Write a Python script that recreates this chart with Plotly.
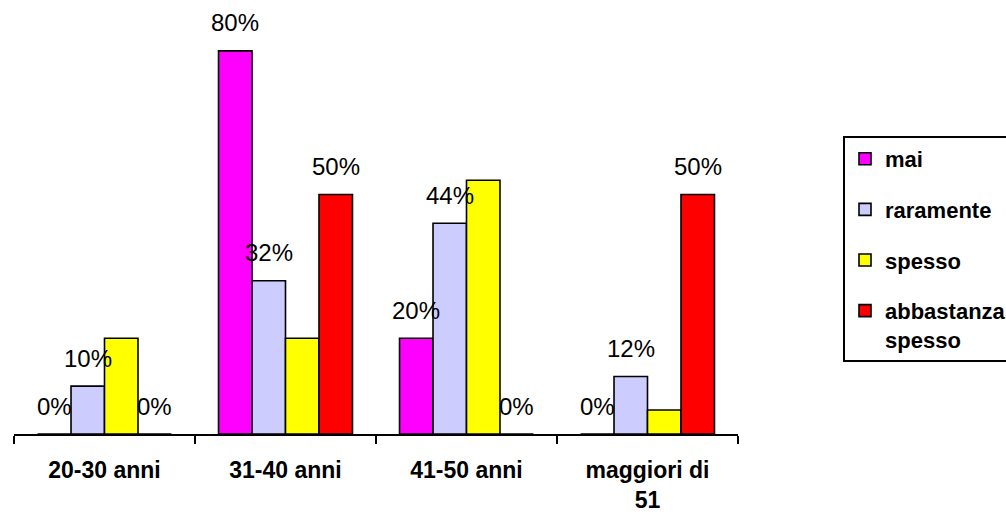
import plotly.graph_objects as go

# Age groups on the x axis
categories = ["20-30 anni", "31-40 anni", "41-50 anni", "maggiori di<br>51"]

# Percentage of answers per age group
mai = [0, 80, 20, 0]
raramente = [10, 32, 44, 12]
spesso = [20, 20, 53, 5]
abbastanza_spesso = [0, 50, 0, 50]

series_names = ["mai", "raramente", "spesso", "abbastanza<br>spesso"]
series_values = [mai, raramente, spesso, abbastanza_spesso]
series_colors = ["#FF00FF", "#CCCCFF", "#FFFF00", "#FF0000"]
# which series carry a percentage label above each bar
series_labelled = [True, True, False, True]

FONT = "Liberation Sans, Arial, sans-serif"
BARGAP = 0.26

fig = go.Figure()
for i, (name, vals, col) in enumerate(zip(series_names, series_values, series_colors)):
    fig.add_trace(go.Bar(
        x=categories,
        y=vals,
        name=name,
        legendgroup=f"g{i}",
        marker=dict(color=col, line=dict(color="black", width=1.6)),
        hoverinfo="skip",
    ))

# value labels placed above the bars of each labelled series
n = len(series_values)
slot = (1 - BARGAP) / n
annotations = []
for k, (vals, show) in enumerate(zip(series_values, series_labelled)):
    if not show:
        continue
    offset = (k - (n - 1) / 2) * slot
    for ci, v in enumerate(vals):
        annotations.append(dict(
            x=ci + offset, y=v, xref="x", yref="y",
            text=f"{v}%", showarrow=False,
            xanchor="center", yanchor="middle", yshift=28,
            font=dict(family=FONT, size=24, color="black"),
        ))

fig.update_layout(
    width=1006, height=517,
    barmode="group", bargap=BARGAP, bargroupgap=0,
    plot_bgcolor="white", paper_bgcolor="white",
    margin=dict(l=14, r=268, t=3, b=83, autoexpand=False),
    annotations=annotations,
    showlegend=True,
    legend=dict(
        x=(843 - 14) / 724, y=(434 - 136) / 431,
        xanchor="left", yanchor="top",
        bordercolor="black", borderwidth=2, bgcolor="white",
        font=dict(family=FONT, size=22, color="black", weight="bold"),
        tracegroupgap=19, traceorder="grouped", valign="top",
    ),
    xaxis=dict(
        showline=True, linecolor="black", linewidth=1.6,
        ticks="outside", tickson="boundaries", ticklen=8,
        tickwidth=1.6, tickcolor="black",
        ticklabelstandoff=15,
        tickfont=dict(family=FONT, size=23, color="black", weight="bold"),
        showgrid=False, zeroline=False,
    ),
    yaxis=dict(
        range=[0, 90], showticklabels=False, showgrid=False,
        zeroline=False, showline=False, ticks="",
    ),
)

fig.write_html("out.html")
